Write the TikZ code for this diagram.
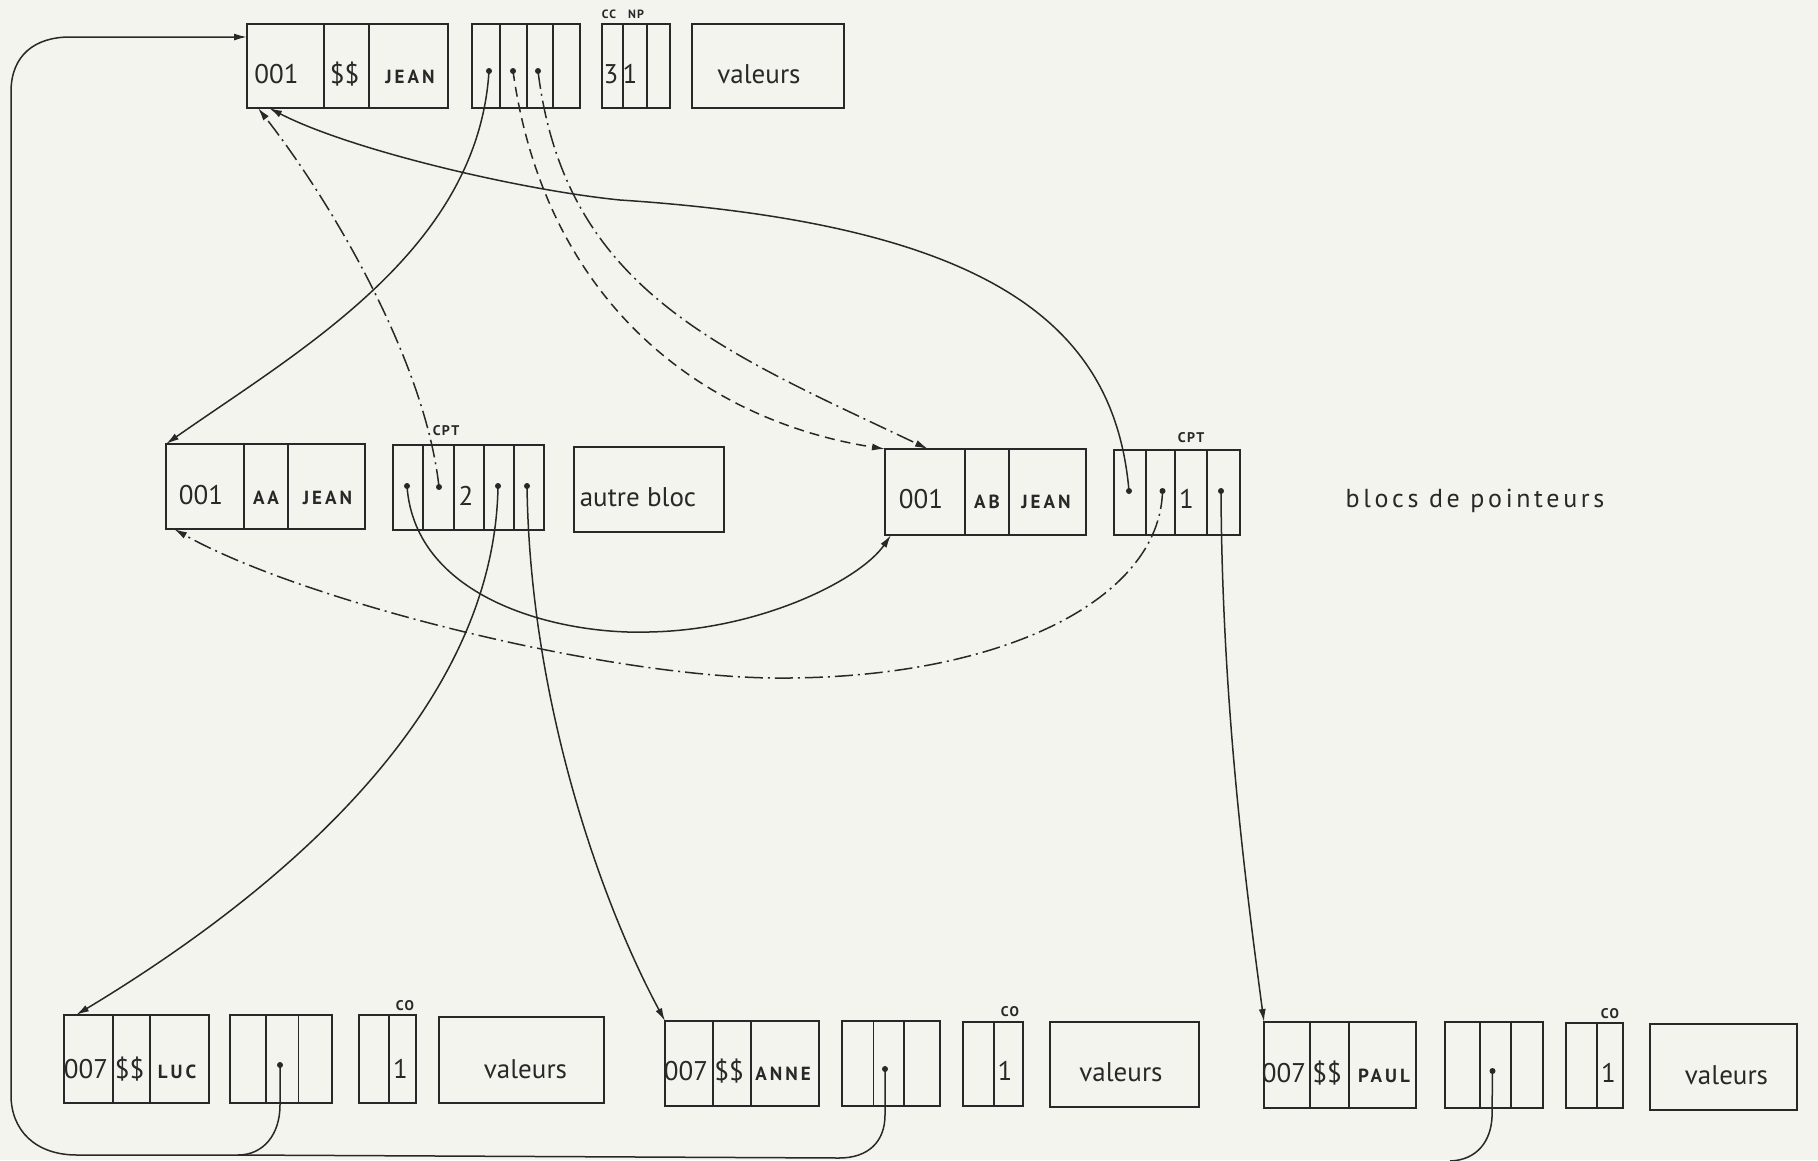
\documentclass[tikz,border=0pt]{standalone}
\usepackage{fontspec}
\setmainfont{PT Sans}
\newfontfamily\lblfont[LetterSpace=16]{PT Sans}
\newfontfamily\tagfont[LetterSpace=10]{PT Sans}
\newfontfamily\widefont[LetterSpace=14]{PT Sans}
\usetikzlibrary{arrows.meta}
\definecolor{paper}{RGB}{244,244,238}
\definecolor{ink}{RGB}{40,40,40}
\newcommand\mkdivs[2]{\foreach \o in {#2} {\draw[div] ([xshift=\o pt]#1.north west) -- ([xshift=\o pt]#1.south west);}}
\tikzset{
  box/.style={draw=ink, line width=2pt, inner sep=0pt, outer sep=0pt, anchor=north west},
  div/.style={draw=ink, line width=1.8pt},
  txt/.style={text=ink, font=\fontsize{27}{30}\selectfont, inner sep=0pt, anchor=base},
  btxt/.style={text=ink, font=\lblfont\bfseries\fontsize{19}{22}\selectfont, inner sep=0pt, anchor=base},
  tag/.style={text=ink, font=\tagfont\bfseries\fontsize{14}{16}\selectfont, inner sep=0pt, anchor=base},
  ptr/.style={circle, fill=ink, inner sep=0pt, minimum size=6pt},
  link/.style={draw=ink, line width=1.5pt, -{Latex[length=13pt,width=7pt]}},
  dashlink/.style={link, dash pattern=on 10pt off 6pt},
  dotlink/.style={link, dash pattern=on 18pt off 5pt on 2pt off 5pt},
  ring/.style={draw=ink, line width=1.5pt},
}
\begin{document}
\begin{tikzpicture}[x=1pt,y=-1pt]
\fill[paper] (0,0) rectangle (1818,1160);
\useasboundingbox (0,0) rectangle (1818,1160);

% ---------- top row ----------
\node[box, minimum width=201pt, minimum height=84pt] (A) at (247,24) {};
\mkdivs{A}{77,122}
\node[txt] (tA1) at (276.5,83) {001};
\node[txt] (tA2) at (344.5,83) {\$\$};
\node[btxt] (tA3) at (410,83) {JEAN};

\node[box, minimum width=108pt, minimum height=84pt] (P0) at (472,24) {};
\mkdivs{P0}{28,55,81}
\node[ptr] (p0a) at (489,71) {};
\node[ptr] (p0b) at (513,71) {};
\node[ptr] (p0c) at (538,71) {};

\node[box, minimum width=68pt, minimum height=84pt] (CN) at (602,24) {};
\mkdivs{CN}{21,45}
\node[txt] (tCN1) at (611,83) {3};
\node[txt] (tCN2) at (630,83) {1};
\node[tag, font=\tagfont\bfseries\fontsize{12}{14}\selectfont] (lCC) at (609,18) {CC};
\node[tag, font=\tagfont\bfseries\fontsize{12}{14}\selectfont] (lNP) at (636,18) {NP};

\node[box, minimum width=152pt, minimum height=84pt] (V0) at (692,24) {};
\node[txt] (tV0) at (759,83) {valeurs};

% ---------- middle row ----------
\node[box, minimum width=199pt, minimum height=85pt] (B) at (166,444) {};
\mkdivs{B}{78,122}
\node[txt] (tB1) at (201,504) {001};
\node[btxt] (tB2) at (266,504) {AA};
\node[btxt] (tB3) at (327.5,504) {JEAN};

\node[box, minimum width=151pt, minimum height=85pt] (P1) at (393,445) {};
\mkdivs{P1}{30,61,91,121}
\node[ptr] (p1a) at (407,486) {};
\node[ptr] (p1b) at (439,487) {};
\node[txt] (tP1) at (466,505) {2};
\node[ptr] (p1c) at (498,486) {};
\node[ptr] (p1d) at (527,486) {};
\node[tag] (lCPT1) at (446,435) {CPT};

\node[box, minimum width=150pt, minimum height=85pt] (AB) at (574,447) {};
\node[txt] (tAB) at (638,506) {autre bloc};

\node[box, minimum width=201pt, minimum height=86pt] (C) at (885,449) {};
\mkdivs{C}{80,124}
\node[txt] (tC1) at (921,508) {001};
\node[btxt] (tC2) at (987,508) {AB};
\node[btxt] (tC3) at (1046,508) {JEAN};

\node[box, minimum width=126pt, minimum height=85pt] (P2) at (1114,450) {};
\mkdivs{P2}{32,61,93}
\node[ptr] (p2a) at (1129,491) {};
\node[ptr] (p2b) at (1162.5,491) {};
\node[txt] (tP2) at (1186.5,508) {1};
\node[ptr] (p2c) at (1221,491) {};
\node[tag] (lCPT2) at (1191,442) {CPT};

\node[text=ink, font=\widefont\fontsize{26}{30}\selectfont, inner sep=0pt, anchor=base] (tBP) at (1475,507) {blocs de pointeurs};

% ---------- bottom row ----------
\node[box, minimum width=145pt, minimum height=88pt] (D) at (64,1015) {};
\mkdivs{D}{49,86}
\node[txt] (tD1) at (86,1078) {007};
\node[txt] (tD2) at (129.5,1078) {\$\$};
\node[btxt] (tD3) at (177,1078) {LUC};
\node[box, minimum width=102pt, minimum height=88pt] (P3) at (230,1015) {};
\mkdivs{P3}{36,68.5}
\node[ptr] (p3d) at (280,1065) {};
\node[box, minimum width=57pt, minimum height=88pt] (K1) at (359,1015) {};
\mkdivs{K1}{30}
\node[txt] (tK1) at (400.5,1078) {1};
\node[tag] (lCO1) at (405,1010) {CO};
\node[box, minimum width=165pt, minimum height=86pt] (V1) at (439,1017) {};
\node[txt] (tV1) at (525.5,1078) {valeurs};

\node[box, minimum width=154pt, minimum height=85pt] (E) at (665,1021) {};
\mkdivs{E}{48,86}
\node[txt] (tE1) at (686,1080) {007};
\node[txt] (tE2) at (729,1080) {\$\$};
\node[btxt] (tE3) at (783,1080) {ANNE};
\node[box, minimum width=98pt, minimum height=85pt] (P4) at (842,1021) {};
\mkdivs{P4}{31.4,62}
\node[ptr] (p4d) at (885,1069) {};
\node[box, minimum width=60pt, minimum height=84pt] (K2) at (963,1022) {};
\mkdivs{K2}{31}
\node[txt] (tK2) at (1005,1080) {1};
\node[tag] (lCO2) at (1010,1016) {CO};
\node[box, minimum width=149pt, minimum height=85pt] (V2) at (1050,1022) {};
\node[txt] (tV2) at (1121,1081) {valeurs};

\node[box, minimum width=152pt, minimum height=86pt] (F) at (1264,1022) {};
\mkdivs{F}{46,85}
\node[txt] (tF1) at (1284,1082) {007};
\node[txt] (tF2) at (1327,1082) {\$\$};
\node[btxt] (tF3) at (1384,1082) {PAUL};
\node[box, minimum width=98pt, minimum height=86pt] (P5) at (1445,1022) {};
\mkdivs{P5}{35,66}
\node[ptr] (p5d) at (1492.5,1071) {};
\node[box, minimum width=57pt, minimum height=85pt] (K3) at (1566,1023) {};
\mkdivs{K3}{31}
\node[txt] (tK3) at (1608.5,1082) {1};
\node[tag] (lCO3) at (1610,1018) {CO};
\node[box, minimum width=147pt, minimum height=86pt] (V3) at (1650,1024) {};
\node[txt] (tV3) at (1726.5,1084) {valeurs};

% ---------- connectors ----------
\draw[link] (p0a.center) .. controls (478,250) and (300,350) .. (B.north west);
\draw[dashlink] (p0b.center) .. controls (545,300) and (700,420) .. (C.north west);
\draw[dotlink] (p0c.center) .. controls (565,290) and (720,350) .. ([xshift=43pt]C.north west);
\draw[link] (p2a.center) .. controls (1115,330) and (1000,225) .. (620,200)
   .. controls (520,190) and (350,150) .. ([xshift=22pt]A.south west);
\draw[dotlink] (p1b.center) .. controls (425,360) and (330,200) .. ([xshift=11pt]A.south west);
\draw[dotlink] (p2b.center) .. controls (1160,600) and (1000,680) .. (773,678)
   .. controls (600,676) and (300,600) .. ([xshift=8pt]B.south west);
\draw[link] (p1a.center) .. controls (415,600) and (560,635) .. (649,632)
   .. controls (760,630) and (860,580) .. ([xshift=6pt]C.south west);
\draw[link] (p1c.center) .. controls (495,700) and (300,880) .. ([xshift=12pt]D.north west);
\draw[link] (p1d.center) .. controls (530,700) and (600,900) .. (E.north west);
\draw[link] (p2c.center) .. controls (1222,700) and (1245,880) .. (F.north west);

% ---------- ring back to the head ----------
\coordinate (join) at (238,1155);
\draw[ring] (p3d.center) -- (280,1105) .. controls (280,1135) and (263,1155) .. (join);
\draw[ring] (p4d.center) -- (885,1115) .. controls (885,1142) and (868,1158) .. (839,1158) -- (join);
\draw[ring] (p5d.center) -- (1492,1117) .. controls (1491,1140) and (1478,1160) .. (1450,1161);
\draw[link] (join) -- (77,1155) .. controls (35,1155) and (11,1130) .. (11,1095)
   -- (11,92) .. controls (11,55) and (35,37) .. (70,37) -- ([yshift=-13pt]A.north west);
\end{tikzpicture}
\end{document}
